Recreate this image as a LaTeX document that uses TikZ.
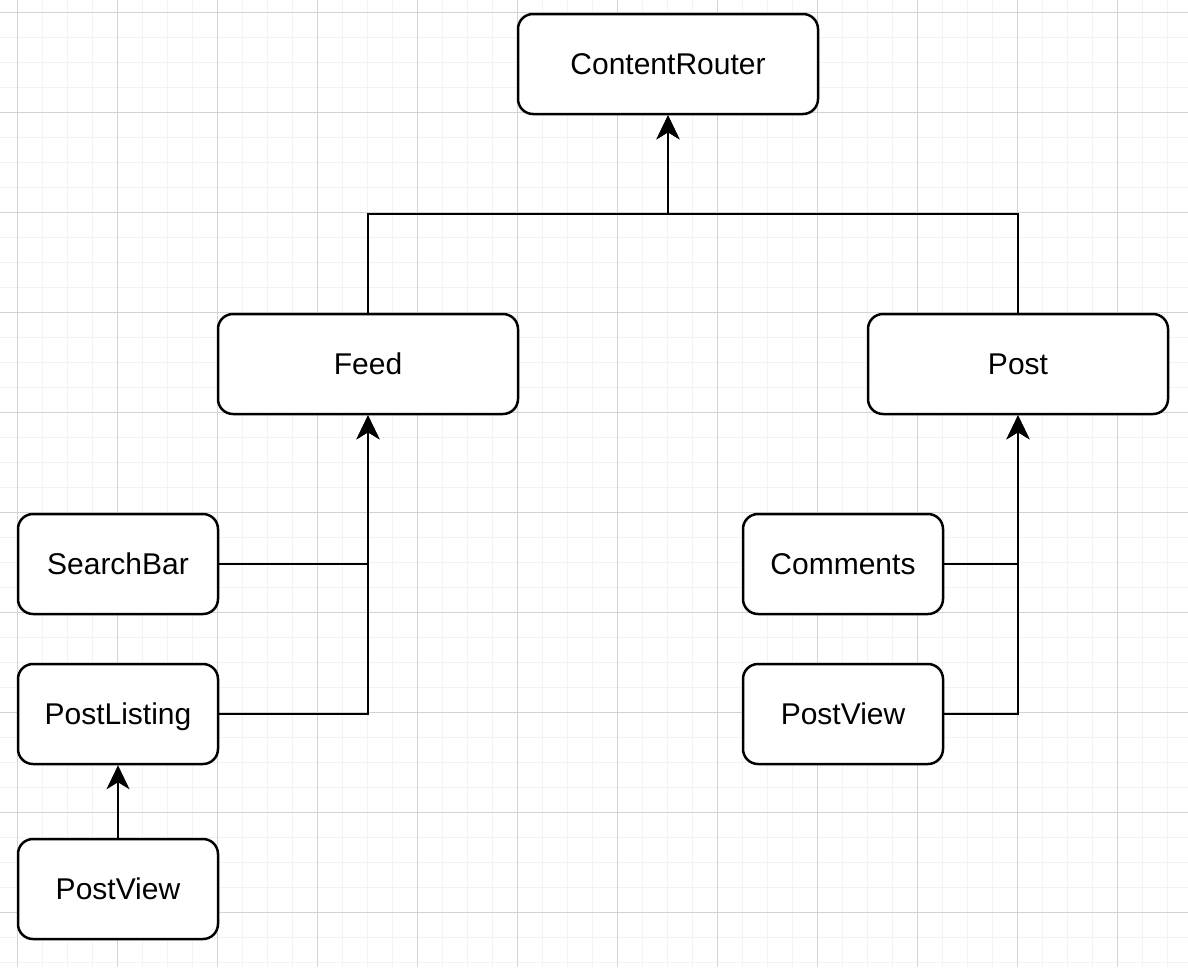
\documentclass[tikz,border=0pt]{standalone}
\usepackage{fontspec}
\setmainfont{Liberation Sans}
\usetikzlibrary{arrows.meta}

\definecolor{minorgrid}{HTML}{F3F3F3}
\definecolor{majorgrid}{HTML}{D3D3D3}

\tikzset{
  comp/.style={draw, line width=2.5pt, fill=white, rounded corners=15pt,
    minimum height=100pt, inner sep=0pt, text height=22pt, text depth=2pt,
    font=\fontsize{30}{36}\selectfont},
  wide/.style={comp, minimum width=300pt},
  narrow/.style={comp, minimum width=200pt},
  link/.style={line width=2.5pt, -{Stealth[length=24pt, width=23pt, inset=7pt]}}
}

\begin{document}
\begin{tikzpicture}[x=1pt, y=-1pt]
\useasboundingbox (0,0) rectangle (1188,967);
\fill[white] (0,0) rectangle (1188,967);

% Background grid
\foreach \x in {17,42,...,1188} \draw[minorgrid, line width=1pt] (\x,0) -- (\x,967);
\foreach \y in {12,37,...,967} \draw[minorgrid, line width=1pt] (0,\y) -- (1188,\y);
\foreach \x in {17,117,...,1188} \draw[majorgrid, line width=1pt] (\x,0) -- (\x,967);
\foreach \y in {12,112,...,967} \draw[majorgrid, line width=1pt] (0,\y) -- (1188,\y);

% Router at top
\node[wide] (router) at (668,64) {ContentRouter};

% Pages
\node[wide] (feed) at (368,364) {Feed};
\node[wide] (post) at (1018,364) {Post};

% Feed children
\node[narrow] (search) at (118,564) {SearchBar};
\node[narrow] (listing) at (118,714) {PostListing};
\node[narrow] (listview) at (118,889) {PostView};

% Post children
\node[narrow] (comments) at (843,564) {Comments};
\node[narrow] (postview) at (843,714) {PostView};

% Page -> router
\draw[link] (feed.north) |- (668,214) -- (router.south);
\draw[link] (post.north) |- (668,214) -- (router.south);

% Children -> pages
\draw[link] (search.east) -| (feed.south);
\draw[link] (listing.east) -| (feed.south);
\draw[link] (listview.north) -- (listing.south);
\draw[link] (comments.east) -| (post.south);
\draw[link] (postview.east) -| (post.south);

\end{tikzpicture}
\end{document}
